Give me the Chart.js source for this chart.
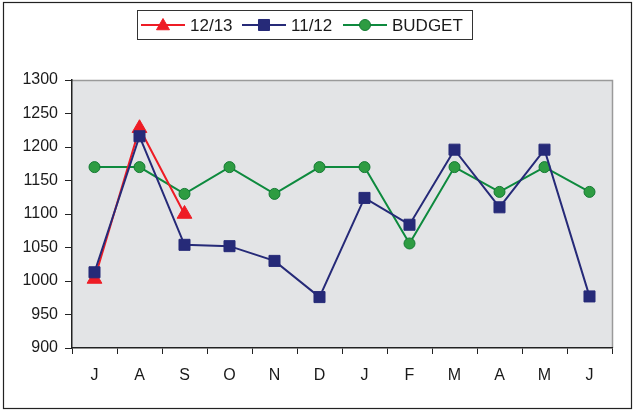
<!DOCTYPE html>
<html>
<head>
<meta charset="utf-8">
<script src="https://cdn.jsdelivr.net/npm/chart.js@4/dist/chart.umd.min.js"></script>
<style>
  html, body { margin: 0; padding: 0; background: #fff; }
  #wrap { width: 635px; height: 411px; position: relative; }
</style>
</head>
<body>
<div id="wrap"><canvas id="chart"></canvas></div>
<script>
// month labels
const months = ['J', 'A', 'S', 'O', 'N', 'D', 'J', 'F', 'M', 'A', 'M', 'J'];
// series
const season1213 = [1003, 1228, 1100];
const season1112 = [1013, 1216, 1054, 1052, 1030, 976, 1124, 1084, 1196, 1110, 1196, 977];
const budget = [1170, 1170, 1130, 1170, 1130, 1170, 1170, 1056, 1170, 1133, 1170, 1133];
// y ticks
const yMin = 900, yMax = 1300, yStep = 50;

const FONT = 'Arial, "Liberation Sans", sans-serif';

// bordo esterno, sfondo del grafico e legenda disegnata a mano
const framePlugin = {
    id: 'frame',
    beforeDraw(chart) {
        const ctx = chart.ctx;
        const a = chart.chartArea;
        ctx.save();
        ctx.fillStyle = '#e3e4e6';
        ctx.fillRect(a.left, a.top, a.right - a.left, a.bottom - a.top);
        ctx.strokeStyle = '#9a9a9a';
        ctx.lineWidth = 1.5;
        ctx.beginPath();
        ctx.moveTo(a.left, a.top + 0.5);
        ctx.lineTo(a.right + 0.5, a.top + 0.5);
        ctx.lineTo(a.right + 0.5, a.bottom);
        ctx.stroke();
        ctx.restore();
    },
    afterDraw(chart) {
        const ctx = chart.ctx;
        ctx.save();
        ctx.strokeStyle = '#222';
        ctx.lineWidth = 1.2;
        ctx.strokeRect(3.5, 2.5, 628, 406);

        // legenda
        ctx.strokeStyle = '#333';
        ctx.lineWidth = 1;
        ctx.strokeRect(137.5, 10.5, 335, 29);
        const starts = [141, 242, 343];
        chart.data.datasets.forEach((ds, i) => {
            const x0 = starts[i];
            const y = 25;
            ctx.strokeStyle = ds.borderColor;
            ctx.lineWidth = 2;
            ctx.beginPath();
            ctx.moveTo(x0, y);
            ctx.lineTo(x0 + 44, y);
            ctx.stroke();
            ctx.fillStyle = ds.pointBackgroundColor;
            ctx.strokeStyle = ds.pointBorderColor;
            ctx.lineWidth = ds.pointBorderWidth;
            Chart.helpers.drawPoint(ctx, {
                pointStyle: ds.pointStyle,
                radius: ds.pointStyle === 'triangle' ? 7.5 : ds.pointRadius,
                borderWidth: ds.pointBorderWidth
            }, x0 + 22, ds.pointStyle === 'triangle' ? y + 1 : y);
            ctx.fillStyle = '#1a1a1a';
            ctx.font = '17px ' + FONT;
            ctx.textBaseline = 'middle';
            ctx.fillText(ds.label, x0 + 49, y + 1);
        });
        ctx.restore();
    }
};

new Chart(document.getElementById('chart'), {
    type: 'line',
    data: {
        labels: months,
        datasets: [
            {
                label: '12/13',
                data: season1213,
                borderColor: '#ee1c25',
                borderWidth: 2,
                pointStyle: 'triangle',
                pointRadius: 8.5,
                pointBackgroundColor: '#ee1c25',
                pointBorderColor: '#ee1c25',
                pointBorderWidth: 1,
                order: 1
            },
            {
                label: '11/12',
                data: season1112,
                borderColor: '#262a78',
                borderWidth: 2,
                pointStyle: 'rect',
                pointRadius: 7.8,
                pointBackgroundColor: '#262a78',
                pointBorderColor: '#262a78',
                pointBorderWidth: 1,
                order: 0
            },
            {
                label: 'BUDGET',
                data: budget,
                borderColor: '#0e8a3e',
                borderWidth: 2,
                pointStyle: 'circle',
                pointRadius: 5.5,
                pointBackgroundColor: '#2e9c42',
                pointBorderColor: '#137a33',
                pointBorderWidth: 1,
                order: 2
            }
        ]
    },
    options: {
        responsive: true,
        maintainAspectRatio: false,
        animation: false,
        layout: { padding: { top: 80, right: 23, left: 0, bottom: 0 } },
        plugins: {
            legend: { display: false },
            tooltip: { enabled: false }
        },
        elements: { line: { tension: 0 } },
        scales: {
            x: {
                offset: true,
                afterFit(scale) { scale.height = 63; },
                grid: {
                    offset: true,
                    drawOnChartArea: false,
                    color: '#222',
                    tickLength: 6
                },
                border: { color: '#222', width: 1.5 },
                ticks: {
                    color: '#1a1a1a',
                    font: { family: FONT, size: 16 },
                    padding: 12,
                    maxRotation: 0,
                    autoSkip: false
                }
            },
            y: {
                min: yMin,
                max: yMax,
                afterFit(scale) { scale.width = 72; },
                grid: {
                    drawOnChartArea: false,
                    color: '#222',
                    tickLength: 7
                },
                border: { color: '#222', width: 1.5 },
                ticks: {
                    stepSize: yStep,
                    color: '#1a1a1a',
                    font: { family: FONT, size: 16 },
                    padding: 7,
                    callback: v => String(v)
                }
            }
        }
    },
    plugins: [framePlugin]
});
</script>
</body>
</html>
